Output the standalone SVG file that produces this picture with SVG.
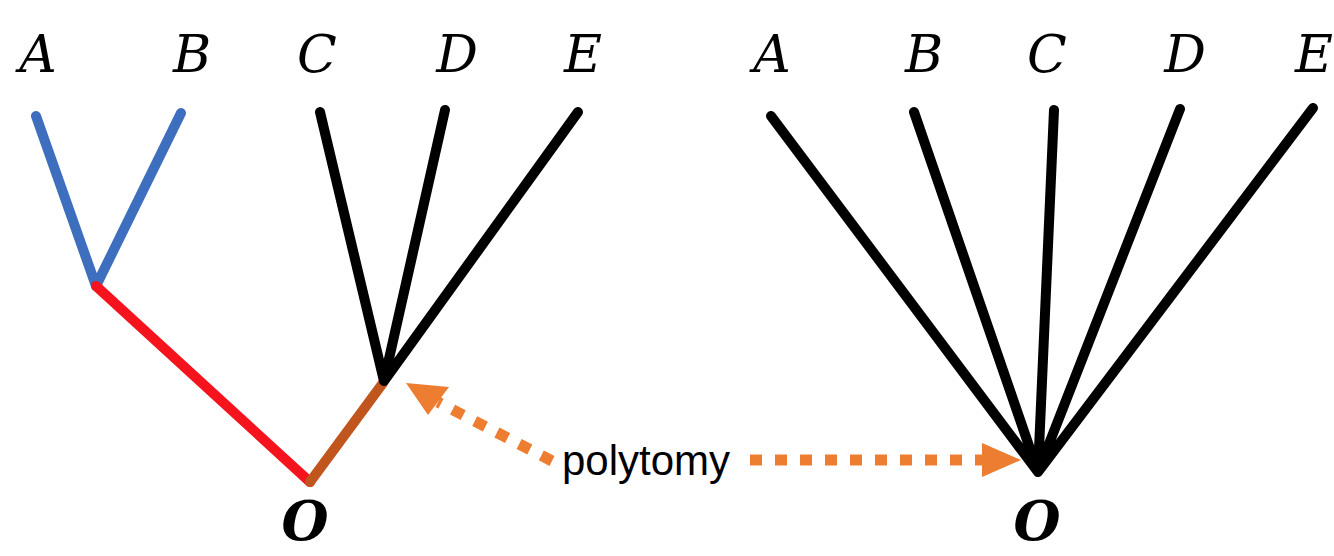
<svg xmlns="http://www.w3.org/2000/svg" width="1334" height="556" viewBox="0 0 1334 556">
<style>
.lbl{font-family:"DejaVu Serif","Liberation Serif",serif;font-style:italic;font-size:52px;fill:#000;text-anchor:middle}
.root{font-family:"DejaVu Serif","Liberation Serif",serif;font-style:italic;font-weight:bold;font-size:54px;fill:#000;text-anchor:middle}
.br{fill:none;stroke-width:10;stroke-linecap:round;stroke-linejoin:round}
.dash{fill:none;stroke:#ED7D31;stroke-width:11;stroke-dasharray:12 13}
.txt{font-family:"Liberation Sans",Arial,sans-serif;font-size:42px;fill:#000}
</style>
<rect width="1334" height="556" fill="#fff"/>
<g id="left-tree">
<g id="L-labels">
<text class="lbl" x="38" y="72">A</text>
<text class="lbl" x="192" y="72">B</text>
<text class="lbl" x="317" y="72">C</text>
<text class="lbl" x="457" y="72">D</text>
<text class="lbl" x="583" y="72">E</text>
<text class="root" x="305" y="540">O</text>
</g>
<g id="L-branches">
<path class="br" stroke="#3E6FBF" d="M36,116 L96,286 L181,113"/>
<path class="br" stroke="#F5131D" d="M96,286 L310,482"/>
<path class="br" stroke="#C0561E" d="M310,482 L383,383"/>
<path class="br" stroke="#000" d="M320,112 L384,381 L445,110 M384,381 L578,112"/>
</g>
</g>
<g id="right-tree">
<g id="R-labels">
<text class="lbl" x="772" y="72">A</text>
<text class="lbl" x="924" y="72">B</text>
<text class="lbl" x="1047" y="72">C</text>
<text class="lbl" x="1185" y="72">D</text>
<text class="lbl" x="1314" y="72">E</text>
<text class="root" x="1037" y="540">O</text>
</g>
<g id="R-branches">
<path class="br" stroke="#000" d="M771,116 L1038,472 L914,112 M1038,472 L1054,110 M1038,472 L1180,109 M1038,472 L1313,108"/>
</g>
</g>
<g id="polytomy">
<text class="txt" x="562" y="475">polytomy</text>
</g>
<g id="connectors">
<line class="dash" x1="552" y1="461" x2="438" y2="402"/>
<polygon fill="#ED7D31" points="406,383 449,387 428,415"/>
<line class="dash" x1="750" y1="460" x2="982" y2="460"/>
<polygon fill="#ED7D31" points="982,443 982,477 1021,460"/>
</g>
</svg>
